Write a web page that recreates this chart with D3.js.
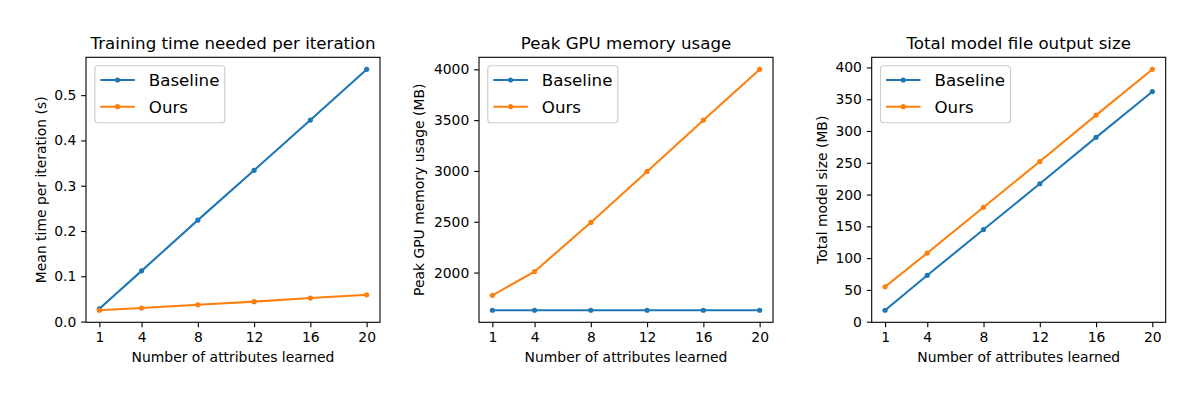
<!DOCTYPE html>
<html><head><meta charset="utf-8">
<script src="https://cdn.jsdelivr.net/npm/d3@7"></script>
<style>body{margin:0;background:#fff}svg{display:block;font-family:"DejaVu Sans",sans-serif}</style>
</head><body><svg id="c" width="1200" height="400"></svg>
<script>
const attributes = [1, 4, 8, 12, 16, 20];
const seriesNames = ["Baseline", "Ours"];
const timeBaseline = [0.028, 0.112, 0.224, 0.334, 0.445, 0.557];
const timeOurs = [0.025, 0.030, 0.037, 0.044, 0.052, 0.059];
const memBaseline = [1629, 1629, 1629, 1629, 1629, 1629];
const memOurs = [1776, 2010, 2493, 2995, 3500, 4000];
const sizeBaseline = [18, 73, 145, 217, 290, 362];
const sizeOurs = [55, 108, 180, 252, 325, 397];
const titles = ["Training time needed per iteration", "Peak GPU memory usage", "Total model file output size"];
const yLabels = ["Mean time per iteration (s)", "Peak GPU memory usage (MB)", "Total model size (MB)"];
const xLabel = "Number of attributes learned";
const yTicks = [[0, 0.1, 0.2, 0.3, 0.4, 0.5], [2000, 2500, 3000, 3500, 4000], [0, 50, 100, 150, 200, 250, 300, 350, 400]];
const yFormats = [".1f", "d", "d"];

const panels = [
  {left: 86, series: [timeBaseline, timeOurs], ylx: 40.7},
  {left: 479, series: [memBaseline, memOurs], ylx: 419.3},
  {left: 871.7, series: [sizeBaseline, sizeOurs], ylx: 821.7}
];
const colors = ["#1f77b4", "#ff7f0e"];
const plotTop = 57.3, plotBottom = 322.3, W = 294;
const svg = d3.select("#c");

function padded(min, max) { const m = (max - min) * 0.05; return [min - m, max + m]; }

panels.forEach((p, i) => {
  const g = svg.append("g");
  const xd = padded(d3.min(attributes), d3.max(attributes));
  const x = d3.scaleLinear().domain(xd).range([p.left, p.left + W]);
  const all = p.series.flat();
  const y = d3.scaleLinear().domain(padded(d3.min(all), d3.max(all))).range([plotBottom, plotTop]);

  const xa = g.append("g").attr("transform", `translate(0,${plotBottom})`)
    .call(d3.axisBottom(x).tickValues(attributes).tickSize(4.86).tickPadding(4.9).tickFormat(d3.format("d")));
  const ya = g.append("g").attr("transform", `translate(${p.left},0)`)
    .call(d3.axisLeft(y).tickValues(yTicks[i]).tickSize(4.86).tickPadding(4.9).tickFormat(d3.format(yFormats[i])));
  [xa, ya].forEach(a => {
    a.select(".domain").remove();
    a.selectAll(".tick line").attr("stroke", "#000").attr("stroke-width", 1.1);
    a.selectAll(".tick text").attr("font-size", "13.9px").attr("fill", "#000").attr("font-family", "DejaVu Sans");
  });

  const line = d3.line().x((d, k) => x(attributes[k])).y(d => y(d));
  p.series.forEach((s, si) => {
    g.append("path").datum(s).attr("d", line).attr("fill", "none")
      .attr("stroke", colors[si]).attr("stroke-width", 2.08).attr("stroke-linejoin", "round").attr("stroke-linecap", "square");
    g.selectAll(null).data(s).enter().append("circle")
      .attr("cx", (d, k) => x(attributes[k])).attr("cy", d => y(d)).attr("r", 2.6).attr("fill", colors[si]);
  });

  g.append("rect").attr("x", p.left).attr("y", plotTop).attr("width", W).attr("height", plotBottom - plotTop)
    .attr("fill", "none").attr("stroke", "#000").attr("stroke-width", 1.1);

  g.append("text").attr("x", p.left + W / 2).attr("y", 48.5).attr("text-anchor", "middle")
    .attr("font-size", "16.67px").text(titles[i]);
  g.append("text").attr("x", p.left + W / 2).attr("y", 361.5).attr("text-anchor", "middle")
    .attr("font-size", "13.9px").text(xLabel);
  g.append("text").attr("transform", `translate(${p.ylx + 5},${(plotTop + plotBottom) / 2}) rotate(-90)`)
    .attr("text-anchor", "middle").attr("font-size", "13.9px").text(yLabels[i]);

  const lx = p.left + 8.8, ly = 65.7;
  const lg = g.append("g");
  lg.append("rect").attr("x", lx).attr("y", ly).attr("width", 130).attr("height", 57).attr("rx", 3)
    .attr("fill", "#fff").attr("fill-opacity", 0.8).attr("stroke", "#cccccc").attr("stroke-width", 1.1);
  seriesNames.forEach((n, si) => {
    const cy = 80 + si * 26.7;
    lg.append("line").attr("x1", lx + 5.5).attr("x2", lx + 40).attr("y1", cy).attr("y2", cy)
      .attr("stroke", colors[si]).attr("stroke-width", 2.08);
    lg.append("circle").attr("cx", lx + 22.7).attr("cy", cy).attr("r", 2.6).attr("fill", colors[si]);
    lg.append("text").attr("x", lx + 54).attr("y", cy + 6).attr("font-size", "16.67px").text(n);
  });
});
</script></body></html>
